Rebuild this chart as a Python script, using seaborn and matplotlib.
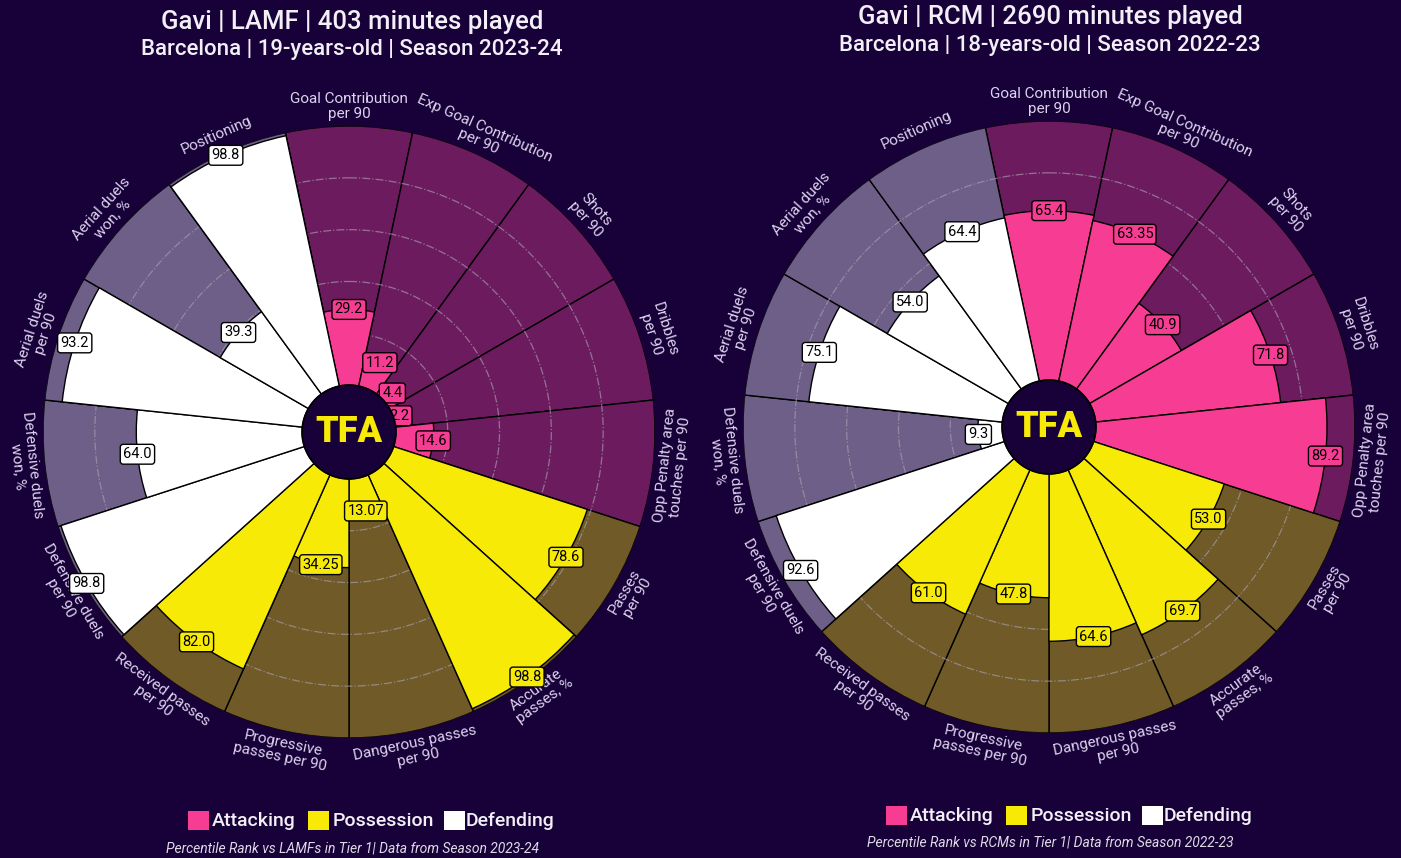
import numpy as np
import pandas as pd
import matplotlib
matplotlib.use("Agg")
import matplotlib.pyplot as plt
from matplotlib.patches import Circle, Rectangle
import seaborn as sns

# ---------------- data ----------------
params = [
    "Goal Contribution\nper 90", "Exp Goal Contribution\nper 90", "Shots\nper 90",
    "Dribbles\nper 90", "Opp Penalty area\ntouches per 90", "Passes\nper 90",
    "Accurate\npasses, %", "Dangerous passes\nper 90", "Progressive\npasses per 90",
    "Received passes\nper 90", "Defensive duels\nper 90", "Defensive duels\nwon, %",
    "Aerial duels\nper 90", "Aerial duels\nwon, %", "Positioning",
]
categories = ["Attacking"] * 5 + ["Possession"] * 5 + ["Defending"] * 5

values_2324 = [29.2, 11.2, 4.4, 2.2, 14.6, 78.6, 98.8, 13.07, 34.25, 82.0,
               98.8, 64.0, 93.2, 39.3, 98.8]
labels_2324 = ["29.2", "11.2", "4.4", "2.2", "14.6", "78.6", "98.8", "13.07", "34.25", "82.0",
               "98.8", "64.0", "93.2", "39.3", "98.8"]

values_2223 = [65.4, 63.35, 40.9, 71.8, 89.2, 53.0, 69.7, 64.6, 47.8, 61.0,
               92.6, 9.3, 75.1, 54.0, 64.4]
labels_2223 = ["65.4", "63.35", "40.9", "71.8", "89.2", "53.0", "69.7", "64.6", "47.8", "61.0",
               "92.6", "9.3", "75.1", "54.0", "64.4"]

title_left = "Gavi | LAMF | 403 minutes played"
sub_left = "Barcelona | 19-years-old | Season 2023-24"
foot_left = "Percentile Rank vs LAMFs in Tier 1| Data from Season 2023-24"
title_right = "Gavi | RCM | 2690 minutes played"
sub_right = "Barcelona | 18-years-old | Season 2022-23"
foot_right = "Percentile Rank vs RCMs in Tier 1| Data from Season 2022-23"

legend_names = ["Attacking", "Possession", "Defending"]

# ---------------- style ----------------
BG = "#180039"
LABEL = "#dcd3ee"
TITLE = "#f2f0f6"
fg_pal = {"Attacking": "#f73d93", "Possession": "#f6ea06", "Defending": "#ffffff"}
bg_pal = {"Attacking": "#6d1b5f", "Possession": "#6f5a28", "Defending": "#6d5f88"}

sns.set_theme(style="white", rc={"figure.facecolor": BG, "axes.facecolor": BG,
                                 "savefig.facecolor": BG})
plt.rcParams["font.family"] = ["Roboto", "DejaVu Sans"]

W, H = 1401, 858
fig = plt.figure(figsize=(W / 100, H / 100), dpi=100, facecolor=BG)

R_IN = 18.1  # inner hole in data units (0..100 scale)
N = len(params)
step = 2 * np.pi / N
theta = np.arange(N) * step


def fx(px):
    return px / W


def fy(py):
    return 1 - py / H


def draw_pizza(cx, cy, values, labels):
    rad = 306
    ax = fig.add_axes([fx(cx - rad), fy(cy + rad), 2 * rad / W, 2 * rad / H],
                      projection="polar")
    ax.set_theta_offset(np.pi / 2)
    ax.set_theta_direction(-1)
    ax.set_facecolor(BG)

    df = pd.DataFrame({"theta": theta, "value": values,
                       "full": [100] * N, "cat": categories})
    sns.barplot(data=df, x="theta", y="full", hue="cat", palette=bg_pal,
                native_scale=True, width=1, dodge=False, saturation=1,
                edgecolor="black", linewidth=1, errorbar=None, legend=False,
                ax=ax, zorder=1)
    sns.barplot(data=df, x="theta", y="value", hue="cat", palette=fg_pal,
                native_scale=True, width=1, dodge=False, saturation=1,
                edgecolor="black", linewidth=1, errorbar=None, legend=False,
                ax=ax, zorder=3)

    tt = np.linspace(0, 2 * np.pi, 400)
    for r in [20, 40, 60, 80]:
        ax.plot(tt, np.full_like(tt, r), ls="-.", color="#a7a0b0", lw=0.9,
                alpha=0.65, zorder=2)

    ax.set_ylim(0, 100)
    ax.set_rorigin(-R_IN)
    ax.set_xticks([])
    ax.set_yticks([])
    ax.set_xlabel("")
    ax.set_ylabel("")
    ax.grid(False)
    ax.spines["polar"].set_visible(False)

    for i in range(N):
        ang = 90 - i * 360 / N
        a = ((ang + 180) % 360) - 180
        if 0 <= a <= 180:
            rot = a - 90
        else:
            rot = a + 90
        ax.text(theta[i], 107.5, params[i], ha="center", va="center",
                rotation=rot, rotation_mode="anchor", color=LABEL,
                fontsize=11, linespacing=1.05, zorder=6)
        ax.text(theta[i], values[i], labels[i], ha="center", va="center",
                fontsize=10.5, color="black", zorder=7,
                bbox=dict(boxstyle="round,pad=0.2", fc=fg_pal[categories[i]],
                          ec="black", lw=1))

    r_c = 0.5 * R_IN / (100 + R_IN)
    ax.add_patch(Circle((0.5, 0.5), r_c, transform=ax.transAxes, fc=BG,
                        ec="black", lw=1.2, zorder=10, clip_on=False))
    ax.text(0.5, 0.5, "TFA", transform=ax.transAxes, ha="center", va="center",
            fontsize=26, fontweight="black", color="#f6ea06", zorder=11)
    return ax


def draw_texts(cx, dy, title, sub, foot):
    fig.text(fx(cx), fy(22 + dy), title, ha="center", va="center",
             fontsize=18.5, fontweight="medium", color=TITLE)
    fig.text(fx(cx), fy(50 + dy), sub, ha="center", va="center",
             fontsize=16, fontweight="medium", color=TITLE)
    fig.text(fx(cx), fy(848 + dy), foot, ha="center", va="center",
             fontsize=10, style="italic", color="#dedbe6")
    sq_x = [188, 308, 444]
    tx_x = [212, 333, 466]
    off = cx - 352
    for k, name in enumerate(legend_names):
        fig.patches.append(Rectangle((fx(sq_x[k] + off), fy(830 + dy)),
                                     21 / W, 19 / H, transform=fig.transFigure,
                                     fc=fg_pal[name], ec="none"))
        fig.text(fx(tx_x[k] + off), fy(821 + dy), name, ha="left", va="center",
                 fontsize=14, fontweight="medium", color=TITLE)


draw_pizza(349, 432, values_2324, labels_2324)
draw_pizza(1049, 427, values_2223, labels_2223)
draw_texts(352, 0, title_left, sub_left, foot_left)
draw_texts(1050, -5, title_right, sub_right, foot_right)

fig.savefig("out.png", dpi=100, facecolor=BG)
